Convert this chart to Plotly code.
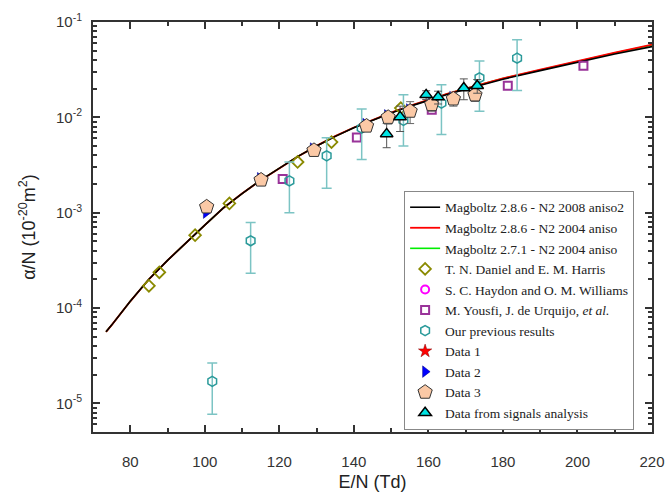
import plotly.graph_objects as go

# ---- data ----
curve_x = [73.5, 75, 80, 85, 90, 95, 100, 105, 110, 115, 120, 125, 130, 135, 140,
           145, 150, 155, 160, 165, 170, 175, 180, 190, 200, 210, 220]
black_y = [5.62e-5, 6.61e-5, 1.175e-4, 2.0e-4, 3.16e-4, 4.9e-4, 7.41e-4, 1.12e-3,
           1.585e-3, 2.19e-3, 2.95e-3, 3.89e-3, 5.01e-3, 6.31e-3, 7.76e-3, 9.33e-3,
           1.109e-2, 1.303e-2, 1.514e-2, 1.738e-2, 1.972e-2, 2.239e-2, 2.512e-2,
           3.09e-2, 3.80e-2, 4.62e-2, 5.52e-2]
red_y = [5.62e-5, 6.61e-5, 1.175e-4, 2.0e-4, 3.16e-4, 4.9e-4, 7.41e-4, 1.12e-3,
         1.585e-3, 2.19e-3, 2.95e-3, 3.89e-3, 5.02e-3, 6.35e-3, 7.82e-3, 9.42e-3,
         1.122e-2, 1.32e-2, 1.535e-2, 1.765e-2, 2.005e-2, 2.28e-2, 2.56e-2,
         3.16e-2, 3.90e-2, 4.78e-2, 5.80e-2]
green_y = [5.62e-5, 6.61e-5, 1.175e-4, 2.0e-4, 3.16e-4, 4.9e-4, 7.41e-4, 1.12e-3,
           1.585e-3, 2.19e-3, 2.95e-3, 3.89e-3, 5.01e-3, 6.33e-3, 7.8e-3, 9.4e-3,
           1.118e-2, 1.315e-2, 1.53e-2, 1.76e-2, 2.0e-2, 2.27e-2, 2.55e-2,
           3.14e-2, 3.87e-2, 4.74e-2, 5.75e-2]

daniel_x = [85.0, 87.8, 97.4, 106.6, 124.9, 134.0, 152.6]
daniel_y = [1.71e-4, 2.37e-4, 5.8e-4, 1.25e-3, 3.4e-3, 5.5e-3, 1.25e-2]

# no points of this series are visible in the reference (legend entry only)
haydon_x = [None]
haydon_y = [None]

yousfi_x = [120.9, 140.8, 160.9, 181.3, 201.6]
yousfi_y = [2.25e-3, 6.15e-3, 1.2e-2, 2.14e-2, 3.47e-2]

prev_x = [102.0, 112.3, 122.7, 132.7, 142.1, 153.3, 163.5, 173.7, 183.8]
prev_y = [1.70e-5, 5.07e-4, 2.15e-3, 3.95e-3, 7.7e-3, 9.3e-3, 1.41e-2, 2.6e-2, 4.17e-2]
prev_hi = [2.65e-5, 7.87e-4, 3.4e-3, 6.1e-3, 1.22e-2, 1.73e-2, 2.2e-2, 3.9e-2, 6.5e-2]
prev_lo = [7.7e-6, 2.31e-4, 1.0e-3, 1.8e-3, 3.6e-3, 5.0e-3, 6.6e-3, 1.16e-2, 1.91e-2]

data1_x = [100.5, 115.1, 129.3, 143.4, 155.1, 166.7]
data1_y = [1.15e-3, 2.2e-3, 4.5e-3, 8.1e-3, 1.16e-2, 1.56e-2]

data2_x = [100.3, 114.8, 129.0, 143.1, 148.9, 154.8, 160.6, 166.4, 172.2]
data2_y = [1.0e-3, 2.3e-3, 4.7e-3, 8.5e-3, 1.05e-2, 1.21e-2, 1.42e-2, 1.63e-2, 1.8e-2]

data3_x = [100.5, 115.1, 129.3, 143.4, 149.2, 155.1, 160.9, 166.7, 172.5]
data3_y = [1.15e-3, 2.2e-3, 4.5e-3, 8.1e-3, 1.0e-2, 1.16e-2, 1.36e-2, 1.56e-2, 1.72e-2]
data3_err = [0, 0, 0, 0, 1.5e-3, 3.0e-3, 2.0e-3, 2.5e-3, 2.5e-3]

sig_x = [148.8, 152.4, 159.4, 162.6, 169.5, 173.1]
sig_y = [6.7e-3, 1.01e-2, 1.72e-2, 1.63e-2, 2.03e-2, 2.14e-2]
sig_err = [1.9e-3, 3.0e-3, 1.8e-3, 2.5e-3, 5.0e-3, 3.5e-3]

y_tickvals = [1e-5, 1e-4, 1e-3, 1e-2, 1e-1]
y_ticktext = ["10<sup>-5</sup>", "10<sup>-4</sup>", "10<sup>-3</sup>", "10<sup>-2</sup>", "10<sup>-1</sup>"]
x_tickvals = [80, 100, 120, 140, 160, 180, 200, 220]

# ---- figure ----
fig = go.Figure()

fig.add_trace(go.Scatter(x=curve_x, y=green_y, mode="lines", name="Magboltz 2.7.1 - N2 2004 aniso",
                         line=dict(color="#00ee00", width=1.6), legendrank=3))
fig.add_trace(go.Scatter(x=curve_x, y=red_y, mode="lines", name="Magboltz 2.8.6 - N2 2004 aniso",
                         line=dict(color="#ff0000", width=1.8), legendrank=2))
fig.add_trace(go.Scatter(x=curve_x, y=black_y, mode="lines", name="Magboltz 2.8.6 - N2 2008 aniso2",
                         line=dict(color="#000000", width=1.6), legendrank=1))

fig.add_trace(go.Scatter(x=daniel_x, y=daniel_y, mode="markers", name="T. N. Daniel and E. M. Harris",
                         marker=dict(symbol="diamond-open", size=9, color="#8a8a00", line=dict(width=1.8)),
                         legendrank=4))
fig.add_trace(go.Scatter(x=haydon_x, y=haydon_y, mode="markers", name="S. C. Haydon and O. M. Williams",
                         marker=dict(symbol="circle-open", size=8, color="#ff00ff", line=dict(width=2)),
                         legendrank=5))
fig.add_trace(go.Scatter(x=yousfi_x, y=yousfi_y, mode="markers",
                         name="M. Yousfi, J. de Urquijo, <i>et al.</i>",
                         marker=dict(symbol="square-open", size=8, color="#993399", line=dict(width=2)),
                         legendrank=6))
fig.add_trace(go.Scatter(x=prev_x, y=prev_y, mode="markers", name="Our previous results",
                         marker=dict(symbol="hexagon-open", size=10, color="#2a9a9a", line=dict(width=1.5)),
                         error_y=dict(type="data", symmetric=False,
                                      array=[h - v for h, v in zip(prev_hi, prev_y)],
                                      arrayminus=[v - l for v, l in zip(prev_y, prev_lo)],
                                      color="#7cc4c4", thickness=1.5, width=5),
                         legendrank=7))
fig.add_trace(go.Scatter(x=data1_x, y=data1_y, mode="markers", name="Data 1",
                         marker=dict(symbol="star", size=10, color="#ff0000", line=dict(width=0.5, color="#800000")),
                         legendrank=8))
fig.add_trace(go.Scatter(x=data2_x, y=data2_y, mode="markers", name="Data 2",
                         marker=dict(symbol="triangle-right", size=10, color="#0000ff", line=dict(width=0.5, color="#000080")),
                         legendrank=9))
fig.add_trace(go.Scatter(x=data3_x, y=data3_y, mode="markers", name="Data 3",
                         marker=dict(symbol="pentagon", size=15, color="#fbc9a6", line=dict(width=1, color="#333333")),
                         error_y=dict(type="data", array=data3_err, color="#666666", thickness=1, width=4),
                         legendrank=10))
fig.add_trace(go.Scatter(x=sig_x, y=sig_y, mode="markers", name="Data from signals analysis",
                         marker=dict(symbol="triangle-up", size=11, color="#00e3e3", line=dict(width=1.5, color="#000000")),
                         error_y=dict(type="data", array=sig_err, color="#555555", thickness=1, width=4),
                         legendrank=11))

axis_common = dict(showline=True, linecolor="#333333", linewidth=2, mirror="ticks",
                   ticks="inside", tickcolor="#333333", tickwidth=1.5, showgrid=False, zeroline=False,
                   tickfont=dict(family="Liberation Sans, Arial", size=15, color="#333333"))

fig.update_xaxes(range=[70, 220], tickvals=x_tickvals, ticklen=7, automargin=False,
                 minor=dict(ticks="inside", dtick=10, tick0=70, ticklen=4, tickcolor="#333333", showgrid=False),
                 title=dict(text="E/N (Td)", font=dict(family="Liberation Sans, Arial", size=18, color="#222222")),
                 ticklabelstandoff=15,
                 **axis_common)

fig.update_yaxes(type="log", range=[-5.301, -1], tickvals=y_tickvals, ticktext=y_ticktext, ticklen=7,
                 automargin=True,
                 minor=dict(ticks="inside", ticklen=4, tickcolor="#333333", showgrid=False,
                            tickvals=[m * d for d in [1e-6, 1e-5, 1e-4, 1e-3, 1e-2] for m in range(2, 10)]),
                 title=dict(text="α/N (10<sup>-20</sup>m<sup>2</sup>)",
                            font=dict(family="Liberation Sans, Arial", size=18, color="#222222"), standoff=16),
                 ticklabelstandoff=6,
                 **axis_common)

fig.update_layout(
    width=669, height=492,
    margin=dict(l=93, r=17, t=22, b=60),
    paper_bgcolor="white", plot_bgcolor="white",
    legend=dict(x=0.968, y=0.005, xanchor="right", yanchor="bottom",
                bgcolor="white", bordercolor="#888888", borderwidth=1,
                font=dict(family="Liberation Serif, Times New Roman", size=13.5, color="#222222"),
                tracegroupgap=0, itemwidth=30),
)

fig.write_html("out.html")
